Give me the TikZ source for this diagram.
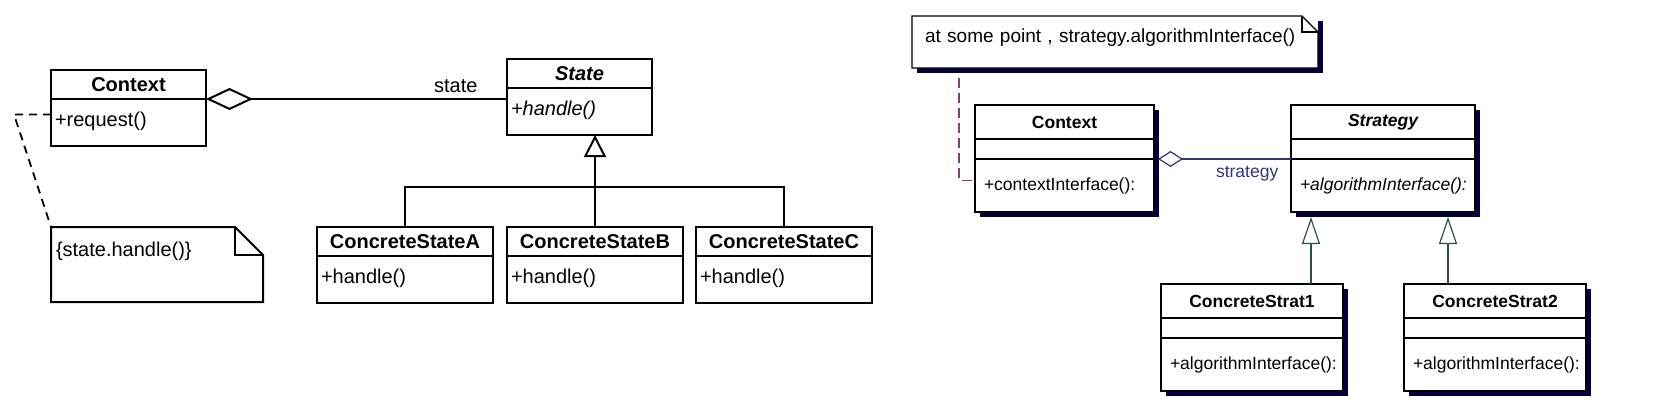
\documentclass[tikz,border=0pt]{standalone}
\usepackage{fontspec}
\setmainfont{Liberation Sans}
\usetikzlibrary{positioning,arrows.meta,backgrounds}

\definecolor{shadownavy}{RGB}{0,0,64}
\definecolor{assocblue}{RGB}{51,51,128}
\definecolor{genslate}{RGB}{47,79,79}
\definecolor{notepurple}{RGB}{128,64,128}

\tikzset{
  lhead/.style={draw, line width=2pt, anchor=north west, inner sep=0pt, outer sep=0pt,
    minimum height=29pt, font=\fontsize{20}{24}\selectfont\bfseries},
  lbody/.style={draw, line width=2pt, inner xsep=4pt, inner ysep=0pt, outer sep=0pt,
    text height=27pt, text depth=20pt, align=left, font=\fontsize{20}{24}\selectfont},
  lnote/.style={anchor=north west, inner xsep=5pt, inner ysep=0pt, outer sep=0pt,
    text width=202pt, text height=29pt, text depth=46pt, align=left,
    font=\fontsize{20}{24}\selectfont},
  rhead/.style={draw, line width=1.2pt, fill=white, anchor=north west, inner sep=0pt,
    outer sep=0pt, minimum height=34pt, font=\fontsize{17.5}{21}\selectfont\bfseries},
  rattr/.style={draw, line width=1.2pt, fill=white, inner sep=0pt, outer sep=0pt,
    minimum height=20pt},
  rops/.style={draw, line width=1.2pt, fill=white, inner xsep=9pt, inner ysep=0pt,
    outer sep=0pt, minimum height=53pt, align=left, font=\fontsize{17.5}{21}\selectfont},
  rnote/.style={fill=white, anchor=north west, inner xsep=13pt, inner ysep=0pt, outer sep=0pt,
    text width=380pt, text height=26pt, text depth=26pt, align=left,
    font=\fontsize{19}{23}\selectfont}
}

\begin{document}
\begin{tikzpicture}[x=1pt,y=-1pt]

  \useasboundingbox (0,0) rectangle (1656,418);

  % state pattern
  \node[lhead, minimum width=155pt] (ctxL) at (51,70) {Context};
  \node[lbody, text width=147pt, below=0pt of ctxL] (ctxLops) {+request()};

  \node[lhead, minimum width=145pt] (stateL) at (507,59) {\itshape State};
  \node[lbody, text width=137pt, below=0pt of stateL] (stateLops) {\itshape +handle()};

  \foreach \n/\x in {A/317,B/507,C/696} {
      \node[lhead, minimum width=176pt] (cs\n) at (\x,227) {ConcreteState\n};
      \node[lbody, text width=168pt, below=0pt of cs\n] (csops\n) {+handle()};
  }

  \node[lnote] (noteL) at (51,227) {\{state.handle()\}};
  \draw[line width=2pt] (noteL.north west) -- ([xshift=-28pt]noteL.north east)
      -- ([yshift=-28pt]noteL.north east) -- (noteL.south east) -- (noteL.south west) -- cycle;
  \draw[line width=2pt] ([xshift=-28pt]noteL.north east) |- ([yshift=-28pt]noteL.north east);

  \draw[line width=1.8pt, dash pattern=on 8pt off 6pt] ([yshift=8pt]ctxLops.west) -- ++(-37,0) -- (noteL.north west);

  \draw[line width=2pt, {Diamond[open, length=47pt, width=22pt]}-] (ctxL.south east)
      -- (ctxL.south east -| stateLops.west) node[pos=0.83, above=2pt, font=\fontsize{20}{24}\selectfont] (stateLbl) {state};

  \draw[line width=2pt, -{Triangle[open, length=22pt, width=22pt]}] (csB.north) -- (csB.north |- stateLops.south);
  \draw[line width=2pt] (csA.north) -- ++(0,-40) -| (csC.north); % bus

  % strategy pattern
  \node[rnote] (noteR) at (912,16) {at some point , strategy.algorithmInterface()};
  \draw[line width=1.2pt] (noteR.north west) -- ([xshift=-16pt]noteR.north east)
      -- ([yshift=-16pt]noteR.north east) -- (noteR.south east) -- (noteR.south west) -- cycle;
  \draw[line width=1.2pt] ([xshift=-16pt]noteR.north east) |- ([yshift=-16pt]noteR.north east);

  \node[rhead, minimum width=179pt] (ctxR) at (975,105) {Context};
  \node[rattr, minimum width=179pt, below=0pt of ctxR] (ctxRattr) {};
  \node[rops, text width=161pt, below=0pt of ctxRattr] (ctxRops) {+contextInterface():};

  \node[rhead, minimum width=184pt] (stratR) at (1291,105) {\itshape Strategy};
  \node[rattr, minimum width=184pt, below=0pt of stratR] (stratRattr) {};
  \node[rops, text width=166pt, below=0pt of stratRattr] (stratRops) {\itshape +algorithmInterface():};

  \foreach \n/\x in {1/1161,2/1404} {
      \node[rhead, minimum width=182pt] (strat\n) at (\x,284) {ConcreteStrat\n};
      \node[rattr, minimum width=182pt, below=0pt of strat\n] (stratattr\n) {};
      \node[rops, text width=164pt, below=0pt of stratattr\n] (stratops\n) {+algorithmInterface():};
  }

  \begin{scope}[on background layer]
      \foreach \a/\b in {noteR/noteR,ctxR/ctxRops,stratR/stratRops,strat1/stratops1,strat2/stratops2}
          \fill[shadownavy] ([shift={(5pt,-5pt)}]\a.north west) rectangle ([shift={(5pt,-5pt)}]\b.south east);
  \end{scope}

  \draw[notepurple, line width=1.2pt, dash pattern=on 10pt off 5pt] ([xshift=47pt, yshift=-10pt]noteR.south west)
      |- ([yshift=5pt]ctxRops.west);

  \draw[assocblue, line width=1.2pt, {Diamond[open, length=25pt, width=16pt]}-] ([xshift=4pt]ctxRattr.south east)
      -- (stratRattr.south west) node[pos=0.67, below=3pt, font=\fontsize{17.5}{21}\selectfont] (stratLbl) {strategy};

  \draw[genslate, line width=1.2pt, -{Triangle[open, length=27pt, width=18pt]}, shorten >=5pt]
      ([xshift=-32pt]strat1.north east) -- ([xshift=-32pt]strat1.north east |- stratRops.south);
  \draw[genslate, line width=1.2pt, -{Triangle[open, length=27pt, width=18pt]}, shorten >=5pt]
      ([xshift=44pt]strat2.north west) -- ([xshift=44pt]strat2.north west |- stratRops.south);

\end{tikzpicture}
\end{document}
